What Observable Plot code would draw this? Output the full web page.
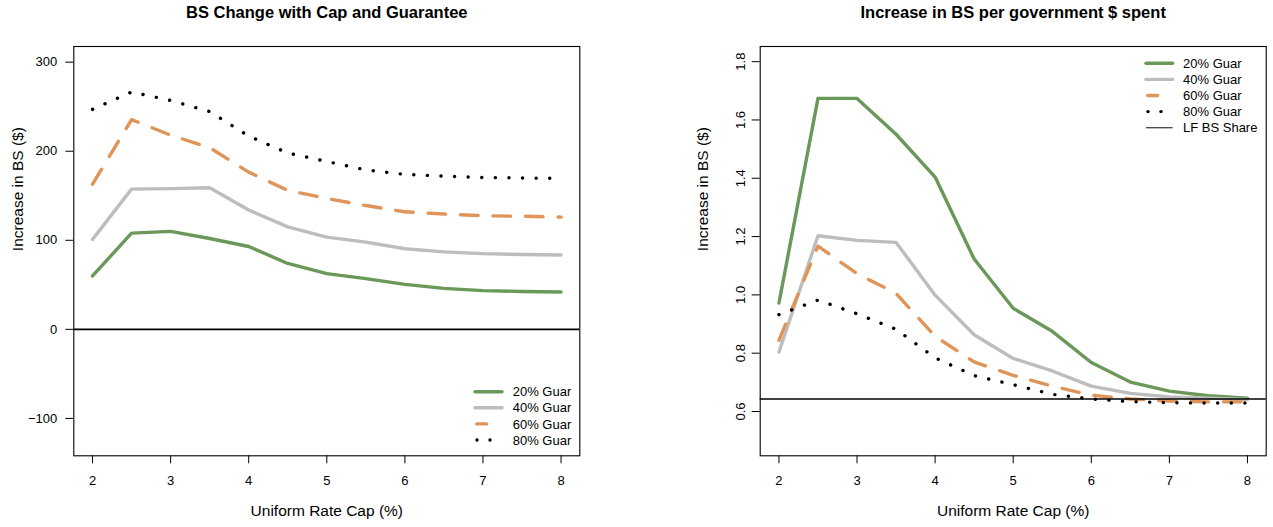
<!DOCTYPE html>
<html>
<head>
<meta charset="utf-8">
<script src="https://cdn.jsdelivr.net/npm/d3@7"></script>
<script src="https://cdn.jsdelivr.net/npm/@observablehq/plot@0.6"></script>
<style>
  body { margin: 0; background: #fff; }
  #wrap { position: relative; width: 1273px; height: 527px; font-family: "Liberation Sans", Arial, Helvetica, sans-serif; overflow: hidden; }
  .panel { position: absolute; top: 0; }
  .legend { position: absolute; top: 0; left: 0; }
</style>
</head>
<body>
<div id="wrap"></div>
<script>
// ---------------- data ----------------
const capRates = [2, 2.5, 3, 3.5, 4, 4.5, 5, 5.5, 6, 6.5, 7, 7.5, 8];
const xTicks = [2, 3, 4, 5, 6, 7, 8];
const guarLabels = ["20% Guar", "40% Guar", "60% Guar", "80% Guar"];
const shareLabel = "LF BS Share";

// Left panel: increase in BS ($)
const bsChange20 = [60, 108, 110, 102, 93, 74, 62.5, 57, 50.5, 46, 43.5, 42.5, 42];
const bsChange40 = [101, 157.5, 158, 159, 134, 115, 103.5, 98, 90.5, 87, 85, 84, 83.5];
const bsChange60 = [163, 235.5, 218, 204, 176.5, 156, 147, 139, 132, 129.5, 127.5, 127, 126];
const bsChange80 = [247, 266.5, 257, 244.5, 217, 198, 188.5, 179, 174, 172, 170.5, 170, 169.5];
const leftYTicks = [-100, 0, 100, 200, 300];
const leftRef = 0;

// Right panel: increase in BS per government $ spent
const perDollar20 = [0.972, 1.674, 1.674, 1.551, 1.404, 1.123, 0.954, 0.875, 0.768, 0.701, 0.670, 0.654, 0.646];
const perDollar40 = [0.804, 1.203, 1.187, 1.180, 0.999, 0.863, 0.782, 0.739, 0.687, 0.662, 0.650, 0.646, 0.641];
const perDollar60 = [0.844, 1.167, 1.073, 1.005, 0.858, 0.770, 0.724, 0.687, 0.656, 0.643, 0.636, 0.633, 0.633];
const perDollar80 = [0.932, 0.982, 0.935, 0.882, 0.784, 0.723, 0.692, 0.659, 0.643, 0.634, 0.630, 0.629, 0.629];
const rightYTicks = [0.6, 0.8, 1.0, 1.2, 1.4, 1.6, 1.8];
const lfBsShare = 0.643;

// ---------------- styles ----------------
const FONT = "Liberation Sans, Arial, Helvetica, sans-serif";
const LW = 3.4;
const styles = [
  {color: "#6A9858", dash: null},
  {color: "#BDBDBD", dash: null},
  {color: "#E09458", dash: "17.5,15"},
  {color: "#000000", dash: "0.1,13.5"}
];

function makeSeries(arrays) {
  return arrays.map((vals, k) => ({
    label: guarLabels[k],
    ...styles[k],
    data: capRates.map((x, i) => ({x, y: vals[i]}))
  }));
}

function panel(o) {
  const lineMarks = o.series.map(s => Plot.line(s.data, {
    x: "x", y: "y", stroke: s.color, strokeWidth: LW,
    strokeDasharray: s.dash || undefined,
    strokeLinecap: "round", strokeLinejoin: "round"
  }));
  return Plot.plot({
    width: o.width, height: 527,
    marginLeft: o.marginLeft, marginRight: o.marginRight, marginTop: 46, marginBottom: 71.7,
    style: {fontFamily: FONT, fontSize: "13px", background: "white", color: "black", overflow: "visible"},
    x: {domain: [1.76, 8.24], axis: null},
    y: {domain: o.yDomain, axis: null},
    marks: [
      ...lineMarks,
      Plot.ruleY([o.ref], {stroke: "black", strokeWidth: 1.6}),
      Plot.frame({stroke: "black", strokeWidth: 1.1}),
      Plot.axisX({ticks: xTicks, tickSize: 8, tickPadding: 12, tickFormat: d => String(d), fontSize: 13, label: null}),
      Plot.axisY({ticks: o.yTicks, tickSize: 8, tickPadding: o.tickPadding, tickFormat: o.yFormat, tickRotate: o.rotate, fontSize: 13, label: null}),
      Plot.text([o.title], {frameAnchor: "top", dy: -40, fontWeight: "bold", fontSize: 16.5, text: d => d}),
      Plot.text(["Uniform Rate Cap (%)"], {frameAnchor: "bottom", dy: 60, fontSize: 15.5, text: d => d}),
      Plot.text(["Increase in BS ($)"], {frameAnchor: "left", dx: o.ytitleDx, rotate: -90, fontSize: 15.5, text: d => d})
    ]
  });
}

const wrap = document.getElementById("wrap");

const left = panel({
  width: 637, marginLeft: 73.3, marginRight: 57.7,
  yDomain: [-142, 317.6], yTicks: leftYTicks,
  yFormat: d => (d < 0 ? "\u2212" + Math.abs(d) : String(d)),
  rotate: 0, tickPadding: 8.5, ref: leftRef,
  series: makeSeries([bsChange20, bsChange40, bsChange60, bsChange80]),
  title: "BS Change with Cap and Guarantee",
  ytitleDx: -56
});
left.classList.add("panel");
left.style.left = "0px";
wrap.appendChild(left);

const right = panel({
  width: 636, marginLeft: 122.7, marginRight: 7.3,
  yDomain: [0.448, 1.852], yTicks: rightYTicks,
  yFormat: d3.format(".1f"),
  rotate: -90, tickPadding: 7.3, ref: lfBsShare,
  series: makeSeries([perDollar20, perDollar40, perDollar60, perDollar80]),
  title: "Increase in BS per government $ spent",
  ytitleDx: -56.7
});
right.classList.add("panel");
right.style.left = "637px";
wrap.appendChild(right);

// ---------------- legends ----------------
const legSvg = d3.select(wrap).append("svg")
  .attr("class", "legend").attr("width", 1273).attr("height", 527)
  .style("pointer-events", "none");

function legend(x0, x1, tx, y0, step, entries) {
  const g = legSvg.append("g").attr("font-family", FONT).attr("font-size", 13);
  entries.forEach((e, i) => {
    const y = y0 + i * step;
    if (e.kind === "dash") {
      g.append("line").attr("x1", x0 + 1.7).attr("x2", x0 + 11.6).attr("y1", y).attr("y2", y)
        .attr("stroke", e.color).attr("stroke-width", LW).attr("stroke-linecap", "round");
    } else if (e.kind === "dot") {
      [x0 + 2, x0 + 15].forEach(cx => g.append("circle").attr("cx", cx).attr("cy", y).attr("r", 1.7).attr("fill", e.color));
    } else {
      g.append("line").attr("x1", x0).attr("x2", x1).attr("y1", y).attr("y2", y)
        .attr("stroke", e.color).attr("stroke-width", e.width).attr("stroke-linecap", e.width > 2 ? "round" : "butt");
    }
    g.append("text").attr("x", tx).attr("y", y).attr("dy", "0.36em").attr("fill", "black").text(e.label);
  });
}

const guarEntries = guarLabels.map((label, k) => ({
  label, color: styles[k].color, width: LW,
  kind: k === 2 ? "dash" : k === 3 ? "dot" : "solid"
}));

legend(475, 502, 512.7, 391.7, 16.1, guarEntries);
legend(1146, 1172.6, 1183, 63.3, 16.1, [...guarEntries, {label: shareLabel, color: "#444", width: 1.3, kind: "solid"}]);
</script>
</body>
</html>
